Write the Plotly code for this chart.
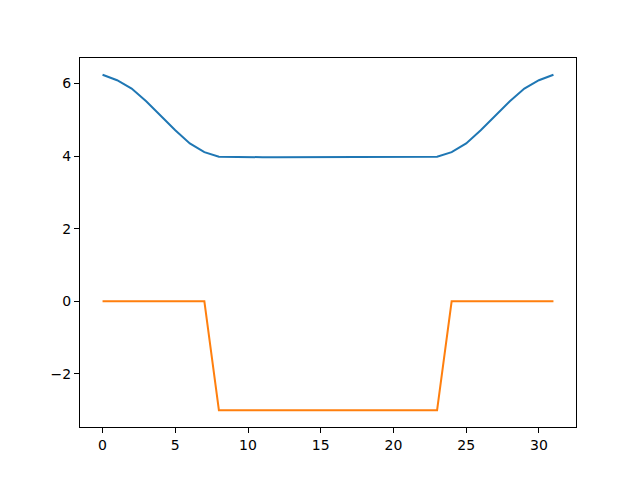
import plotly.graph_objects as go

x_vals = list(range(32))
blue_vals = [6.24, 6.09, 5.86, 5.51, 5.11, 4.71, 4.35, 4.11, 3.98,
             3.97, 3.97, 3.97, 3.97, 3.97, 3.97, 3.97, 3.97, 3.97, 3.97,
             3.97, 3.97, 3.97, 3.97, 3.98,
             4.11, 4.35, 4.71, 5.11, 5.51, 5.86, 6.09, 6.24]
orange_vals = [0]*8 + [-3]*16 + [0]*8
x_ticks = [0, 5, 10, 15, 20, 25, 30]
y_ticks = [-2, 0, 2, 4, 6]

fig = go.Figure()
fig.add_trace(go.Scatter(x=x_vals, y=blue_vals, mode="lines",
                         line=dict(color="#1f77b4", width=2)))
fig.add_trace(go.Scatter(x=x_vals, y=orange_vals, mode="lines",
                         line=dict(color="#ff7f0e", width=2)))

ymin = min(min(blue_vals), min(orange_vals))
ymax = max(max(blue_vals), max(orange_vals))
yr = ymax - ymin
axis_common = dict(showgrid=False, zeroline=False, showline=True, linecolor="black",
                   linewidth=1, mirror=True, ticks="outside", ticklen=5,
                   tickcolor="black", tickfont=dict(size=14, color="black"))
fig.update_layout(
    width=640, height=480, showlegend=False,
    paper_bgcolor="white", plot_bgcolor="white",
    margin=dict(l=72, r=72, t=50, b=61),
    font=dict(family="DejaVu Sans", color="black"),
    xaxis=dict(range=[-1.55, 32.55], tickvals=x_ticks, **axis_common),
    yaxis=dict(range=[ymin - 0.05*yr, ymax + 0.05*yr], tickvals=y_ticks, **axis_common),
)
fig.write_html("out.html")
